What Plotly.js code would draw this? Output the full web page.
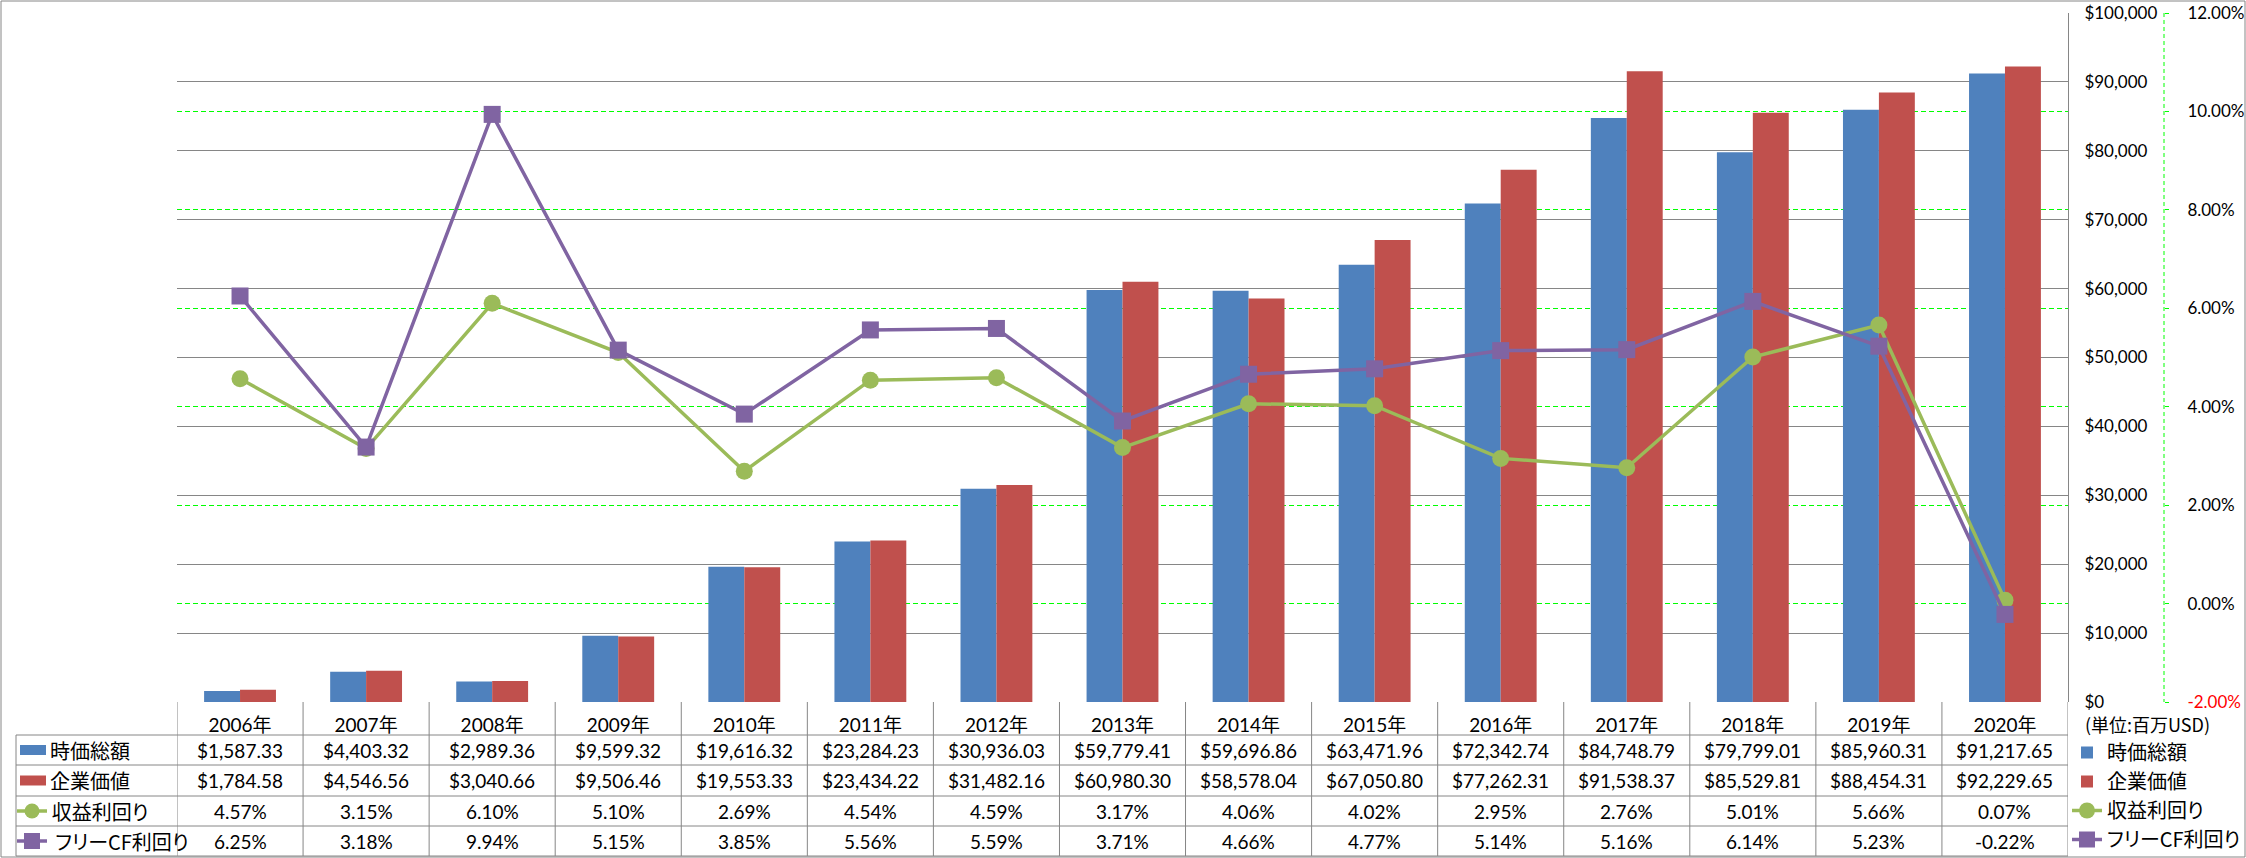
<!DOCTYPE html>
<html>
<head>
<meta charset="utf-8">
<script src="https://cdn.plot.ly/plotly-3.0.1.min.js"></script>
<style>
  body { margin: 0; background: #fff; }
  #chart text { font-feature-settings: "palt" 1; }
</style>
</head>
<body>
<div id="chart" style="width:2246px;height:858px;"></div>
<script>
// data (values from the table under the plot)
var years = ['2006年', '2007年', '2008年', '2009年', '2010年', '2011年', '2012年', '2013年',
             '2014年', '2015年', '2016年', '2017年', '2018年', '2019年', '2020年'];
var marketCap = [1587.33, 4403.32, 2989.36, 9599.32, 19616.32, 23284.23, 30936.03, 59779.41,
                 59696.86, 63471.96, 72342.74, 84748.79, 79799.01, 85960.31, 91217.65];
var enterpriseValue = [1784.58, 4546.56, 3040.66, 9506.46, 19553.33, 23434.22, 31482.16, 60980.30,
                       58578.04, 67050.80, 77262.31, 91538.37, 85529.81, 88454.31, 92229.65];
var earningsYield = [4.57, 3.15, 6.10, 5.10, 2.69, 4.54, 4.59, 3.17, 4.06, 4.02, 2.95, 2.76, 5.01, 5.66, 0.07];
var fcfYield = [6.25, 3.18, 9.94, 5.15, 3.85, 5.56, 5.59, 3.71, 4.66, 4.77, 5.14, 5.16, 6.14, 5.23, -0.22];
var seriesNames = ['時価総額', '企業価値', '収益利回り', 'フリーCF利回り'];
var usdTicks = [0, 10000, 20000, 30000, 40000, 50000, 60000, 70000, 80000, 90000, 100000];
var pctTicks = [-2, 0, 2, 4, 6, 8, 10, 12];
var unitLabel = '(単位:百万USD)';

var colors = ['#4F81BD', '#C0504D', '#9BBB59', '#8064A2'];
var NUM_FONT = "Lato, 'Noto Sans CJK JP', sans-serif";
var JP_FONT = "'Noto Sans CJK JP', sans-serif";
var GRID = '#868686';

// pixel -> paper helpers
var W = 2246, H = 858;
function px(x) { return x / W; }
function py(y) { return 1 - y / H; }

var traces = [
  { type: 'bar', name: seriesNames[0], x: years, y: marketCap, marker: { color: colors[0] } },
  { type: 'bar', name: seriesNames[1], x: years, y: enterpriseValue, marker: { color: colors[1] } },
  { type: 'scatter', mode: 'lines+markers', name: seriesNames[2], x: years, y: earningsYield, yaxis: 'y2',
    line: { color: colors[2], width: 3.5 }, marker: { symbol: 'circle', size: 17, color: colors[2] } },
  { type: 'scatter', mode: 'lines+markers', name: seriesNames[3], x: years, y: fcfYield, yaxis: 'y2',
    line: { color: colors[3], width: 3.5 }, marker: { symbol: 'square', size: 17, color: colors[3] } }
];

// table rows under the plot
var rowY = [750, 780.5, 811, 841];
function money(v) { return '$' + v.toLocaleString('en-US', { minimumFractionDigits: 2, maximumFractionDigits: 2 }); }
function pct(v) { return v.toFixed(2) + '%'; }
var rows = [marketCap.map(money), enterpriseValue.map(money), earningsYield.map(pct), fcfYield.map(pct)];

var annotations = [];
rows.forEach(function (cells, r) {
  cells.forEach(function (t, i) {
    annotations.push({ x: years[i], xref: 'x', xanchor: 'center', y: py(rowY[r]), yref: 'paper', yanchor: 'middle',
      text: t, showarrow: false, font: { family: NUM_FONT, size: 19, color: '#000' } });
  });
  annotations.push({ x: px(48), xref: 'paper', xanchor: 'left', y: py(rowY[r]), yref: 'paper', yanchor: 'middle',
    text: seriesNames[r], showarrow: false, font: { family: JP_FONT, size: 20, color: '#000' } });
});
annotations.push({ x: px(2083), xref: 'paper', xanchor: 'left', y: py(724), yref: 'paper', yanchor: 'middle',
  text: unitLabel, showarrow: false, font: { family: JP_FONT, size: 18, color: '#000' } });

var shapes = [];
function line(x0, y0, x1, y1, xref, color, width, dash) {
  shapes.push({ type: 'line', xref: xref || 'paper', yref: 'paper', x0: x0, x1: x1, y0: py(y0), y1: py(y1),
    line: { color: color || GRID, width: width || 1, dash: dash || 'solid' } });
}
// table grid
[735, 765, 796, 826, 856].forEach(function (y) { line(px(16), y, px(2068), y); });
line(px(16), 735, px(16), 856);
for (var i = 0; i <= years.length; i++) line(i - 0.5, 702, i - 0.5, 856, 'x');
// secondary axis line (dashed green)
line(px(2164), 13, px(2164), 702, 'paper', '#00FF00', 1, '4px,3px');
// outer border
shapes.push({ type: 'rect', xref: 'paper', yref: 'paper', x0: px(1), x1: px(2245), y0: py(1), y1: py(857),
  line: { color: GRID, width: 1 } });
// legend keys in the table's first column
shapes.push({ type: 'rect', xref: 'paper', yref: 'paper', x0: px(20), x1: px(46), y0: py(745), y1: py(755),
  fillcolor: colors[0], line: { width: 0 } });
shapes.push({ type: 'rect', xref: 'paper', yref: 'paper', x0: px(20), x1: px(46), y0: py(775.5), y1: py(785.5),
  fillcolor: colors[1], line: { width: 0 } });
line(px(17), 811, px(47), 811, 'paper', colors[2], 3.5);
shapes.push({ type: 'circle', xref: 'paper', yref: 'paper', x0: px(24.5), x1: px(39.5), y0: py(803.5), y1: py(818.5),
  fillcolor: colors[2], line: { width: 0 } });
line(px(17), 841, px(47), 841, 'paper', colors[3], 3.5);
shapes.push({ type: 'rect', xref: 'paper', yref: 'paper', x0: px(24), x1: px(40), y0: py(833), y1: py(849),
  fillcolor: colors[3], line: { width: 0 } });

var layout = {
  width: W, height: H,
  margin: { l: 0, r: 0, t: 0, b: 0, autoexpand: false },
  paper_bgcolor: '#fff', plot_bgcolor: '#fff',
  barmode: 'group', bargap: 0.43, bargroupgap: 0,
  showlegend: true,
  legend: { x: px(2067), y: py(733), xanchor: 'left', yanchor: 'top', bgcolor: 'rgba(0,0,0,0)',
    font: { family: JP_FONT, size: 20, color: '#000' }, itemwidth: 30, traceorder: 'normal' },
  xaxis: { domain: [px(177), px(2068)], type: 'category', range: [-0.5, years.length - 0.5],
    showgrid: false, showline: false, zeroline: false,
    ticks: '', ticklabelstandoff: 10, tickfont: { family: NUM_FONT, size: 19, color: '#000' }, fixedrange: true },
  yaxis: { domain: [py(702), py(13)], range: [0, 100000], side: 'right', tickvals: usdTicks,
    ticktext: usdTicks.map(function (v) { return '$' + v.toLocaleString('en-US'); }),
    showgrid: true, gridcolor: GRID, gridwidth: 1,
    showline: true, linecolor: GRID, linewidth: 1, zeroline: false, ticks: '', ticklabelstandoff: 12,
    tickfont: { family: NUM_FONT, size: 17, color: '#000' }, fixedrange: true },
  yaxis2: { overlaying: 'y', side: 'right', anchor: 'free', position: px(2164), range: [-2, 12],
    tickvals: pctTicks,
    ticktext: pctTicks.map(function (v) { return v < 0 ? '<span style="color:#FF0000">' + pct(v) + '</span>' : pct(v); }),
    showgrid: true, gridcolor: '#00FF00', gridwidth: 1, griddash: '5px,3px',
    showline: false, zeroline: false, ticks: 'outside', ticklen: 4, tickcolor: '#00FF00', tickwidth: 1,
    ticklabelstandoff: 15, tickfont: { family: NUM_FONT, size: 17, color: '#000' }, fixedrange: true },
  annotations: annotations,
  shapes: shapes
};

Plotly.newPlot('chart', traces, layout, { displayModeBar: false, staticPlot: true });
</script>
</body>
</html>
